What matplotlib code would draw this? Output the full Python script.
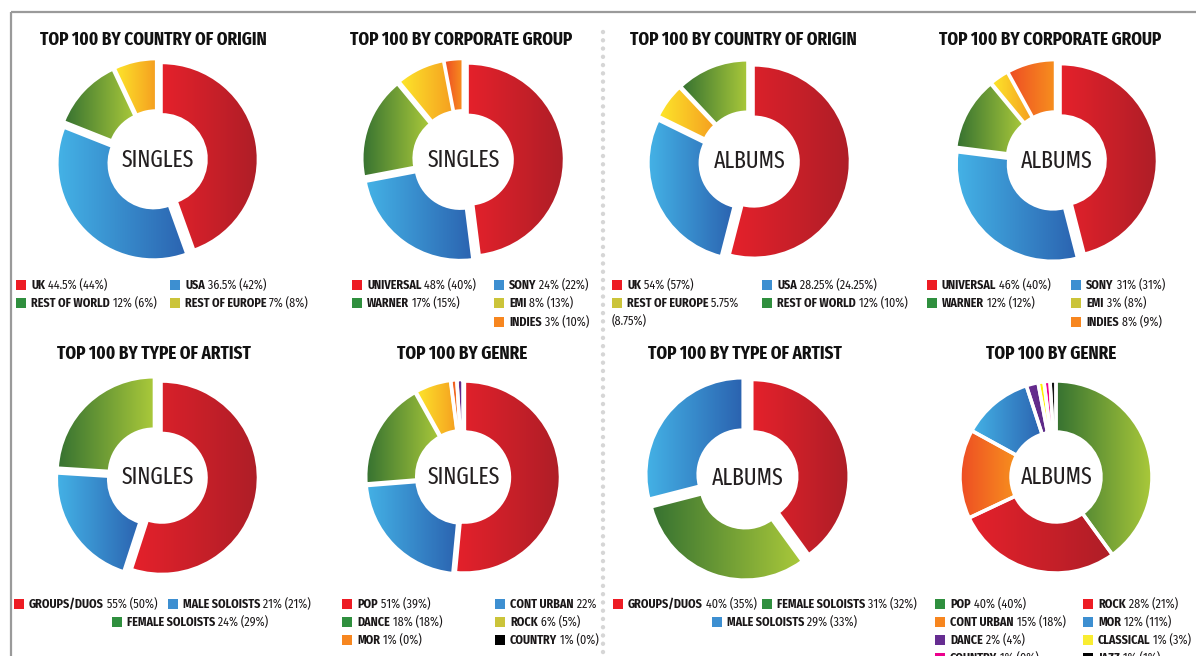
import numpy as np
import matplotlib
matplotlib.use('Agg')
import matplotlib.pyplot as plt
from matplotlib.colors import LinearSegmentedColormap
from matplotlib.patches import Rectangle

# Datos: porcentaje actual y (entre paréntesis) el del año anterior
pais_singles_nombres = ['UK', 'USA', 'REST OF WORLD', 'REST OF EUROPE']
pais_singles = [44.5, 36.5, 12, 7]
pais_singles_antes = [44, 42, 6, 8]

corp_nombres = ['UNIVERSAL', 'SONY', 'WARNER', 'EMI', 'INDIES']
corp_singles = [48, 24, 17, 8, 3]
corp_singles_antes = [40, 22, 15, 13, 10]

pais_albums_nombres = ['UK', 'USA', 'REST OF EUROPE', 'REST OF WORLD']
pais_albums = [54, 28.25, 5.75, 12]
pais_albums_antes = [57, 24.25, 8.75, 10]

corp_albums = [46, 31, 12, 3, 8]
corp_albums_antes = [40, 31, 12, 8, 9]

tipo_singles_nombres = ['GROUPS/DUOS', 'MALE SOLOISTS', 'FEMALE SOLOISTS']
tipo_singles = [55, 21, 24]
tipo_singles_antes = [50, 21, 29]

genero_singles_nombres = ['POP', 'CONT URBAN', 'DANCE', 'ROCK', 'MOR', 'COUNTRY']
genero_singles = [51, 22, 18, 6, 1, 1]
genero_singles_antes = [39, None, 18, 5, 0, 0]  # el de cont urban sale cortado

tipo_albums_nombres = ['GROUPS/DUOS', 'FEMALE SOLOISTS', 'MALE SOLOISTS']
tipo_albums = [40, 31, 29]
tipo_albums_antes = [35, 32, 33]

genero_albums_nombres = ['POP', 'ROCK', 'CONT URBAN', 'MOR', 'DANCE', 'CLASSICAL', 'COUNTRY', 'JAZZ']
genero_albums = [40, 28, 15, 12, 2, 1, 1, 1]
genero_albums_antes = [40, 21, 18, 11, 4, 3, 0, 1]

# Colores: degradado de las cuñas (izquierda -> derecha) y cuadrito de la leyenda
DEGRADADO = {
    'rojo': ('#e5212b', '#ae1e27'),
    'azul': ('#44b2e6', '#2b63b0'),
    'verde': ('#367231', '#aac93a'),
    'amarillo': ('#fde62b', '#f59f20'),
    'naranja': ('#ee4d24', '#f7911e'),
    'morado': ('#6a2c91', '#5a2a86'),
    'amarillo_vivo': ('#fff200', '#fff200'),
    'magenta': ('#ec008c', '#ec008c'),
    'negro': ('#151515', '#151515'),
}
LEYENDA = {
    'rojo': '#ed1c24', 'azul': '#3d8fd1', 'verde': '#2f8f3e', 'oliva': '#cbc43a',
    'naranja': '#f7861f', 'morado': '#662d91', 'amarillo_vivo': '#f9ed32',
    'magenta': '#ec008c', 'negro': '#000000',
}

# fuentes estrechas (con DejaVu de respaldo)
F_TITULO = ['Fira Sans Extra Condensed', 'DejaVu Sans']
F_LEYENDA = ['Fira Sans Condensed', 'DejaVu Sans']

ALTO = 656
def Y(y):
    return ALTO - y  # paso de pixeles (arriba hacia abajo) a coordenadas del eje

fig = plt.figure(figsize=(11.96, 6.56), dpi=100)
ax = fig.add_axes([0, 0, 1, 1])

# Cada grafica: centro, titulo, rotulo, datos, colores, separacion y posiciones de la leyenda
graficas = [
    dict(c=(157, 160), titulo='TOP 100 BY COUNTRY OF ORIGIN', tx=153, ty=40, rot='SINGLES',
         nombres=pais_singles_nombres, v=pais_singles, a=pais_singles_antes,
         cu=['rojo', 'azul', 'verde', 'amarillo'], ley=['rojo', 'azul', 'verde', 'oliva'],
         sep=0.05, borde=1.5,
         pos=[(16, 285), (170, 285), (16, 303), (170, 303)]),
    dict(c=(463, 160), titulo='TOP 100 BY CORPORATE GROUP', tx=461, ty=40, rot='SINGLES',
         nombres=corp_nombres, v=corp_singles, a=corp_singles_antes,
         cu=['rojo', 'azul', 'verde', 'amarillo', 'naranja'], ley=['rojo', 'azul', 'verde', 'oliva', 'naranja'],
         sep=0.05, borde=1.5,
         pos=[(352, 285), (494, 285), (352, 303), (494, 303), (494, 322)]),
    dict(c=(749, 161), titulo='TOP 100 BY COUNTRY OF ORIGIN', tx=743, ty=40, rot='ALBUMS',
         nombres=pais_albums_nombres, v=pais_albums, a=pais_albums_antes,
         cu=['rojo', 'azul', 'amarillo', 'verde'], ley=['rojo', 'azul', 'oliva', 'verde'],
         sep=0.05, borde=1.5,
         pos=[(612, 285), (762, 285), (612, 303), (762, 303)], corte=2),
    dict(c=(1056, 161), titulo='TOP 100 BY CORPORATE GROUP', tx=1050, ty=40, rot='ALBUMS',
         nombres=corp_nombres, v=corp_albums, a=corp_albums_antes,
         cu=['rojo', 'azul', 'verde', 'amarillo', 'naranja'], ley=['rojo', 'azul', 'verde', 'oliva', 'naranja'],
         sep=0.05, borde=1.5,
         pos=[(927, 285), (1071, 285), (927, 303), (1071, 303), (1071, 322)]),
    dict(c=(157, 477), titulo='TOP 100 BY TYPE OF ARTIST', tx=154, ty=354, rot='SINGLES',
         nombres=tipo_singles_nombres, v=tipo_singles, a=tipo_singles_antes,
         cu=['rojo', 'azul', 'verde'], ley=['rojo', 'azul', 'verde'],
         sep=0.05, borde=1.5,
         pos=[(14, 604), (168, 604), (112, 622)]),
    dict(c=(463, 477), titulo='TOP 100 BY GENRE', tx=462, ty=354, rot='SINGLES',
         nombres=genero_singles_nombres, v=genero_singles, a=genero_singles_antes,
         cu=['rojo', 'azul', 'verde', 'amarillo', 'naranja', 'morado'],
         ley=['rojo', 'azul', 'verde', 'oliva', 'naranja', 'negro'],
         sep=0.015, borde=2.5,
         pos=[(342, 604), (495, 604), (342, 622), (495, 622), (342, 640), (495, 640)]),
    dict(c=(747, 478), titulo='TOP 100 BY TYPE OF ARTIST', tx=745, ty=354, rot='ALBUMS',
         nombres=tipo_albums_nombres, v=tipo_albums, a=tipo_albums_antes,
         cu=['rojo', 'verde', 'azul'], ley=['rojo', 'verde', 'azul'],
         sep=0.06, borde=1.5,
         pos=[(613, 604), (762, 604), (712, 622)]),
    dict(c=(1056, 477), titulo='TOP 100 BY GENRE', tx=1051, ty=354, rot='ALBUMS',
         nombres=genero_albums_nombres, v=genero_albums, a=genero_albums_antes,
         cu=['verde', 'rojo', 'naranja', 'azul', 'morado', 'amarillo_vivo', 'magenta', 'negro'],
         ley=['verde', 'rojo', 'naranja', 'azul', 'morado', 'amarillo_vivo', 'magenta', 'negro'],
         sep=0.0, borde=2.5,
         pos=[(935, 604), (1083, 604), (935, 622), (1083, 622), (935, 640), (1083, 640),
              (935, 658), (1083, 658)]),
]

R = 96        # radio exterior en pixeles
HUECO = 45    # radio del agujero
TAM_LEY = 8.7


def pintar_degradado(cuna, c1, c2):
    caja = cuna.get_path().get_extents()
    mapa = LinearSegmentedColormap.from_list('g', [c1, c2])
    im = ax.imshow(np.linspace(0, 1, 256).reshape(1, -1), cmap=mapa, aspect='auto',
                   extent=(caja.x0, caja.x1, caja.y0, caja.y1), interpolation='bilinear', zorder=1)
    im.set_clip_path(cuna)


def pct(v):
    return f'{v:g}%'


for g in graficas:
    cx, cy = g['c']
    n = len(g['v'])
    cunas, _ = ax.pie(g['v'], radius=R, center=(cx, Y(cy)), startangle=90, counterclock=False,
                      explode=[g['sep'] * R] * n, frame=True,
                      wedgeprops=dict(width=R - HUECO, edgecolor='white', linewidth=g['borde']))
    for cuna, col in zip(cunas, g['cu']):
        pintar_degradado(cuna, *DEGRADADO[col])
        cuna.set_facecolor('none')
        cuna.set_zorder(2)
    ax.text(cx + 1, Y(cy), g['rot'], ha='center', va='center', fontsize=17, color='#231f20',
            family=F_TITULO, zorder=3)
    ax.text(g['tx'], Y(g['ty']), g['titulo'], ha='center', va='center', fontsize=13.4,
            fontweight='bold', color='#111111', family=F_TITULO)

    # leyenda: cuadrito + nombre en negrita + porcentajes normales
    for i, (nom, v, a) in enumerate(zip(g['nombres'], g['v'], g['a'])):
        x, y = g['pos'][i]
        ax.add_patch(Rectangle((x, Y(y) - 5), 10, 10, color=LEYENDA[g['ley'][i]], lw=0))
        t = ax.text(x + 15, Y(y), nom, ha='left', va='center', fontsize=TAM_LEY,
                    fontweight='bold', color='#1a1718', family=F_LEYENDA)
        resto = ' ' + pct(v)
        if a is not None and g.get('corte') != i:
            resto += f' ({pct(a)})'
        ax.annotate(resto, xy=(1, 0), xycoords=t, ha='left', va='bottom', fontsize=TAM_LEY,
                    color='#1a1718', family=F_LEYENDA)
        if g.get('corte') == i:
            ax.text(x, Y(y + 18), f'({pct(a)})', ha='left', va='center', fontsize=TAM_LEY,
                    color='#1a1718', family=F_LEYENDA)

# marco gris y linea punteada del medio
ax.plot([11, 1196], [Y(12), Y(12)], color='#9a9a9a', lw=1.6, solid_capstyle='butt')
ax.plot([11, 11], [Y(12), Y(656)], color='#9a9a9a', lw=1.6, solid_capstyle='butt')
ax.plot([603, 603], [Y(32), Y(656)], color='#d6d6d6', lw=3.2, linestyle=(0, (0.01, 1.85)),
        dash_capstyle='round')

ax.set_xlim(0, 1196)
ax.set_ylim(0, ALTO)
ax.set_aspect('auto')
ax.axis('off')
fig.savefig('out.png', dpi=100)
